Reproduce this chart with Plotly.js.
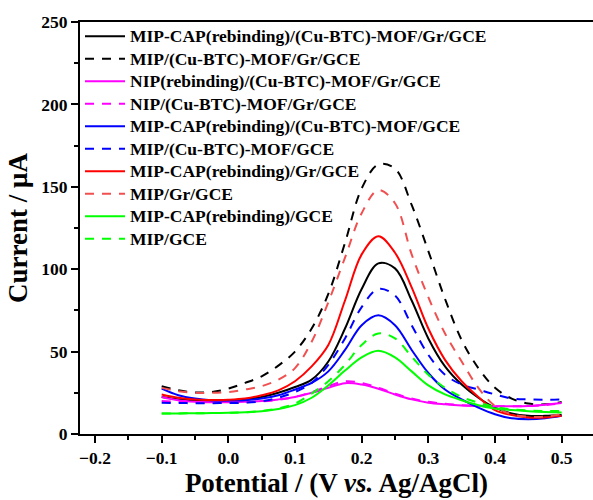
<!DOCTYPE html>
<html>
<head>
<meta charset="utf-8">
<script src="https://cdn.plot.ly/plotly-3.0.1.min.js"></script>
<style>
html,body{margin:0;padding:0;background:#fff;}
#chart{width:593px;height:500px;}
</style>
</head>
<body>
<div id="chart"></div>
<script>
// Potential grid (V vs. Ag/AgCl)
const potential = [-0.1,-0.075,-0.05,-0.025,0,0.025,0.05,0.075,0.1,0.125,0.15,0.175,0.2,0.225,0.25,0.275,0.3,0.325,0.35,0.375,0.4,0.425,0.45,0.475,0.5];

// Currents (µA)
const mipCapMofGr   = [22.5,21,20.3,20,20.2,21,22.5,25,28.5,33,44,64,88,103.5,100.5,81,58,41,30,22,16,12.5,11,11,11.5];
const mipMofGr      = [29,26.5,25.2,25.5,27.5,31,35,41.5,50,64,85,116,149,163.5,161,139,111,82,57,40,28,21.5,18.5,18,19.5];
const nipRebMofGr   = [22.5,20.5,19.6,19.3,19.3,19.5,20,21,22.5,25,28,30.8,30,27.5,24,21,19,18,17.3,17,16.8,16.8,17,17.8,18.8];
const nipMofGr      = [20,19.5,19.2,19,19,19.3,19.8,20.8,22.5,25.5,29,32,31,28,24.5,21.5,19.5,18.3,17.5,17,16.8,16.8,17,17.6,18.5];
const mipCapMof     = [27.5,23.5,21.5,20.5,20.3,20.5,21.5,23.5,27,31,38,51,66,72,66,51,37,27,21,16,12,9.5,9,9.5,11];
const mipMof        = [19,18.8,18.7,18.7,18.8,19,19.8,22,25.5,31,42,58,77,88,84,66,48,36,30,27,24,21.5,21,20.8,21];
const mipCapGr      = [24,22,21,20.7,20.8,21.5,23.5,26.5,32,41,54,81,109,120,110,89,64,45,32,22.5,14.5,11.5,10,10,11];
const mipGr         = [28,26,25,25,25.5,27,29,33,40,56,80,107,134,148,140,109,83,61,44,28,17,12,10.5,10.5,12];
const mipCapGce     = [12.5,12.5,12.6,12.7,12.9,13.2,13.8,15.2,17.5,22,29.5,38.5,46.5,50.5,46.5,38,29.5,24,20.5,17.5,15.5,14.5,13.8,13.3,13];
const mipGce        = [12.5,12.5,12.6,12.7,12.9,13.2,14,15.5,18.5,24.5,32,42,54,61,58,47,36,28,22.5,19,16.5,15,14.3,14,14];

const seriesNames = [
  "MIP-CAP(rebinding)/(Cu-BTC)-MOF/Gr/GCE",
  "MIP/(Cu-BTC)-MOF/Gr/GCE",
  "NIP(rebinding)/(Cu-BTC)-MOF/Gr/GCE",
  "NIP/(Cu-BTC)-MOF/Gr/GCE",
  "MIP-CAP(rebinding)/(Cu-BTC)-MOF/GCE",
  "MIP/(Cu-BTC)-MOF/GCE",
  "MIP-CAP(rebinding)/Gr/GCE",
  "MIP/Gr/GCE",
  "MIP-CAP(rebinding)/GCE",
  "MIP/GCE"
];
const seriesValues = [mipCapMofGr, mipMofGr, nipRebMofGr, nipMofGr, mipCapMof, mipMof, mipCapGr, mipGr, mipCapGce, mipGce];
const seriesColors = ["#000000","#000000","#ff00ff","#ff00ff","#0000ff","#0000ff","#ff0000","#f05050","#00ff00","#00ff00"];
const seriesDash   = ["solid","9px,8px","solid","9px,8px","solid","9px,8px","solid","9px,8px","solid","9px,8px"];

const traces = seriesNames.map((n,i)=>({
  type:"scatter", mode:"lines",
  name:'<span style="font-size:17.5px">' + n + '</span>',
  x: potential, y: seriesValues[i],
  line:{color:seriesColors[i], width:2, dash:seriesDash[i], shape:"spline", smoothing:1}
}));

const FONT = "Liberation Serif, Times New Roman, serif";
const layout = {
  width:593, height:500,
  margin:{l:80, r:0, t:22, b:66},
  paper_bgcolor:"#fff", plot_bgcolor:"#fff",
  showlegend:true,
  legend:{x:0, y:1.005, xanchor:"left", yanchor:"top", bgcolor:"rgba(0,0,0,0)", borderwidth:0,
          font:{family:FONT, size:15, color:"#000", weight:"bold"}, itemwidth:40, tracegroupgap:0},
  xaxis:{
    range:[-0.2225,0.547], showgrid:false, zeroline:false,
    showline:true, linecolor:"#000", linewidth:2, mirror:true,
    ticks:"outside", ticklen:7, tickwidth:2, tickcolor:"#000",
    dtick:0.1, tick0:0, tickformat:".1f",
    minor:{ticks:"outside", ticklen:4, tickwidth:2, dtick:0.05, tickcolor:"#000"},
    tickfont:{family:FONT, size:17.5, color:"#000", weight:"bold"},
    title:{text:"Potential / (V <i>vs.</i> Ag/AgCl)", font:{family:FONT, size:27, color:"#000", weight:"bold"}, standoff:4}
  },
  yaxis:{
    range:[0,250], showgrid:false, zeroline:false,
    showline:true, linecolor:"#000", linewidth:2, mirror:false,
    ticks:"outside", ticklen:7, tickwidth:2, tickcolor:"#000",
    dtick:50, tick0:0,
    minor:{ticks:"outside", ticklen:4, tickwidth:2, dtick:25, tickcolor:"#000"},
    tickfont:{family:FONT, size:17.5, color:"#000", weight:"bold"},
    title:{text:"Current / μA", font:{family:FONT, size:27, color:"#000", weight:"bold"}, standoff:6}
  }
};

Plotly.newPlot("chart", traces, layout, {displayModeBar:false, staticPlot:true});
</script>
</body>
</html>
